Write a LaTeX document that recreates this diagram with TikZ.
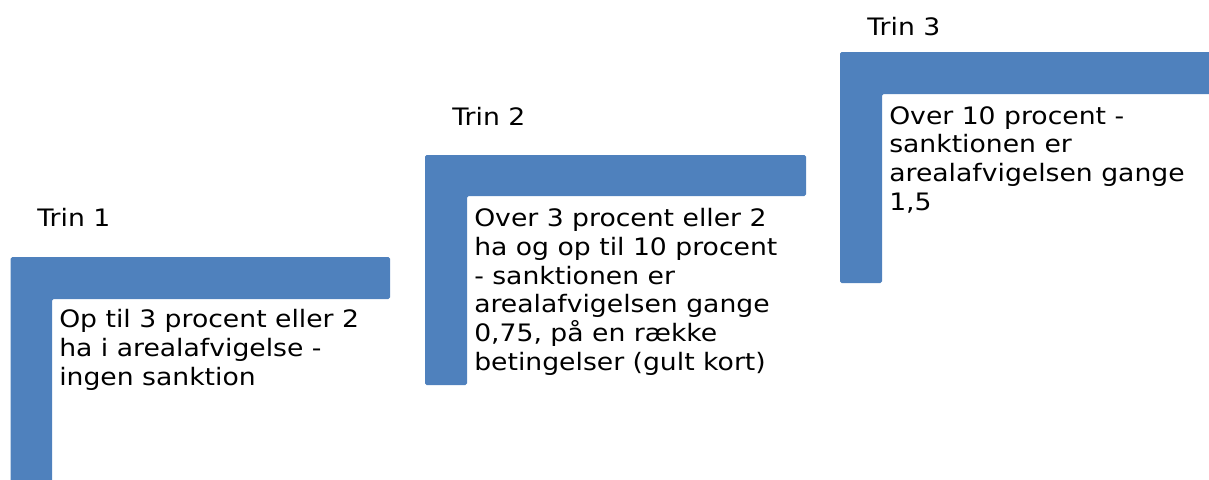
\documentclass[tikz,border=0pt]{standalone}
\usepackage{fontspec}
\setmainfont{DejaVu Sans}[FakeStretch=1.11]
\definecolor{barblue}{HTML}{4F81BD}
\begin{document}
\begin{tikzpicture}[x=0.75pt,y=-0.75pt,
  bar/.style={fill=barblue,draw=none,rounded corners=1.2pt},
  body/.style={anchor=base west,inner sep=0pt,align=left,font=\fontsize{18}{21.5}\selectfont},
  title/.style={anchor=base west,inner sep=0pt,font=\fontsize{18}{21.5}\selectfont}]
\useasboundingbox (0,0) rectangle (1209,479);
% step 1
\fill[bar] (10.7,257) -- (390,257) -- (390,299) -- (52,299) -- (52,490) -- (10.7,490) -- cycle;
\node[title] (t1) at (37,226) {Trin 1};
\node[body] (b1) at (59,385) {Op til 3 procent eller 2\\ha i arealafvigelse -\\ingen sanktion};
% step 2
\fill[bar] (425,155) -- (806,155) -- (806,196) -- (467,196) -- (467,385) -- (425,385) -- cycle;
\node[title] (t2) at (452,125) {Trin 2};
\node[body] (b2) at (474,370) {Over 3 procent eller 2\\ha og op til 10 procent\\- sanktionen er\\arealafvigelsen gange\\0,75, på en række\\betingelser (gult kort)};
% step 3
\fill[bar] (840,52) -- (1220,52) -- (1220,94) -- (882,94) -- (882,283) -- (840,283) -- cycle;
\node[title] (t3) at (867,35) {Trin 3};
\node[body] (b3) at (889,210) {Over 10 procent -\\sanktionen er\\arealafvigelsen gange\\1,5};
\end{tikzpicture}
\end{document}
